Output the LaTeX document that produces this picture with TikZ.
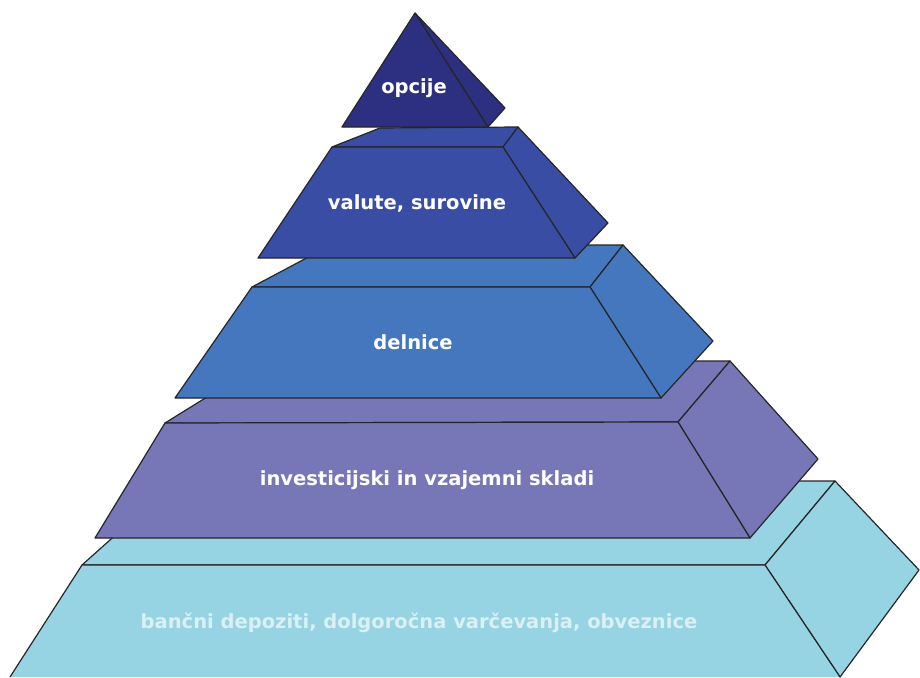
\documentclass[tikz,border=0pt]{standalone}
\usepackage{fontspec}
\setmainfont{DejaVu Sans}
\usepackage{tikz}
\definecolor{opccol}{HTML}{2D2F80}
\definecolor{valcol}{HTML}{3A4DA5}
\definecolor{delcol}{HTML}{4477BD}
\definecolor{invcol}{HTML}{7776B7}
\definecolor{bancol}{HTML}{97D4E3}

\begin{document}
\begin{tikzpicture}[
      x=1pt, y=-1pt,
      font=\bfseries\fontsize{19.5}{23}\selectfont,
      face/.style={draw=black!85, line width=1.2pt, line join=round},
      lbl/.style={text=white, inner sep=0pt}
    ]
    \useasboundingbox (0,0) rectangle (920,677);
    % bottom tier
    \fill[white] (0,0) rectangle (920,677);
    \begin{scope}
    \clip (0,0) rectangle (920,677);
    \draw[face, fill=bancol] (82,565) -- (176,481) -- (835,481) -- (765,565) -- cycle;
    \draw[face, fill=bancol] (765,565) -- (835,481) -- (919,570) -- (840,677) -- cycle;
    \draw[face, fill=bancol] (10,677) -- (82,565) -- (765,565) -- (840,677);
    \end{scope}
    \node[lbl, text=white!65!bancol] (ban) at (419,623) {bančni depoziti, dolgoročna varčevanja, obveznice};
    % investment funds
    \draw[face, fill=invcol] (165,423) -- (265,361) -- (730,361) -- (678,422) -- cycle;
    \draw[face, fill=invcol] (678,422) -- (730,361) -- (818,459) -- (750,538) -- cycle;
    \draw[face, fill=invcol] (95,538) -- (165,423) -- (678,422) -- (750,538) -- cycle;
    \node[lbl] (inv) at (427,480) {investicijski in vzajemni skladi};
    % shares
    \draw[face, fill=delcol] (252,287) -- (331,245) -- (623,245) -- (590,287) -- cycle;
    \draw[face, fill=delcol] (590,287) -- (623,245) -- (713,341) -- (661,398) -- cycle;
    \draw[face, fill=delcol] (175,398) -- (252,287) -- (590,287) -- (661,398) -- cycle;
    \node[lbl] (del) at (413,342) {delnice};
    % currencies
    \draw[face, fill=valcol] (332,147) -- (380,128) -- (518,127) -- (503,147) -- cycle;
    \draw[face, fill=valcol] (503,147) -- (518,127) -- (608,223) -- (575,258) -- cycle;
    \draw[face, fill=valcol] (258,258) -- (332,147) -- (503,147) -- (575,258) -- cycle;
    \node[lbl] (val) at (417,203) {valute, surovine};
    % top
    \draw[face, fill=opccol] (415,13) -- (505,108) -- (488,127) -- cycle;
    \draw[face, fill=opccol] (342,127) -- (415,13) -- (488,127) -- cycle;
    \node[lbl] (opc) at (414,88) {opcije};
  \end{tikzpicture}
\end{document}
